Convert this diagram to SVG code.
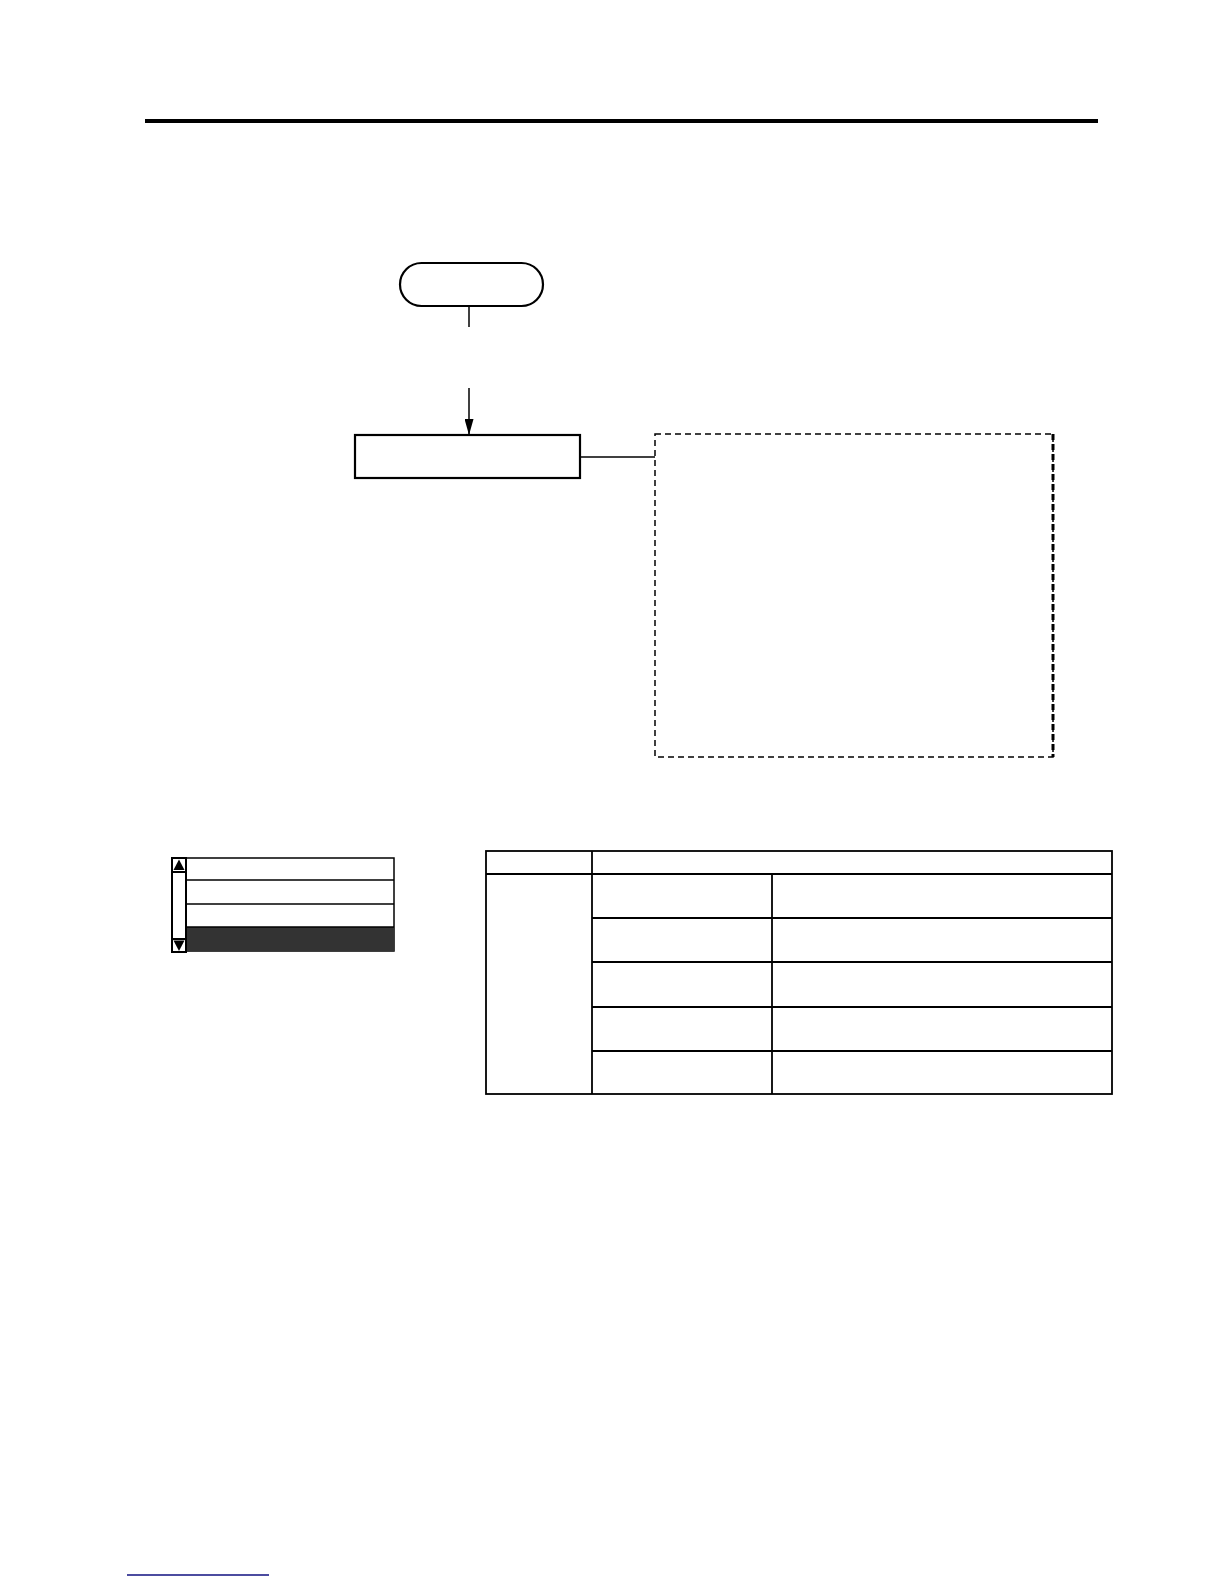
<svg xmlns="http://www.w3.org/2000/svg" width="1224" height="1584" viewBox="0 0 1224 1584">
<style>
.ln{stroke:#000;fill:none;stroke-width:1.5}
.box{stroke:#000;fill:#fff;stroke-width:2.2}
.dash{stroke:#000;fill:none;stroke-width:1.5;stroke-dasharray:6 4}
.tb{stroke:#000;fill:none;stroke-width:1.8}
</style>
<defs>
<marker id="arr" viewBox="0 0 16 9" refX="16" refY="4.5" markerWidth="16" markerHeight="9" markerUnits="userSpaceOnUse" orient="auto">
<path d="M0,0 L16,4.5 L0,9 z" fill="#000"/>
</marker>
</defs>
<rect x="145" y="119" width="953" height="4" fill="#000"/>
<g id="start">
<rect x="400" y="263" width="143" height="43" rx="21.5" ry="21.5" class="box" stroke-width="1.5"/>
</g>
<g id="process">
<rect x="355" y="435" width="225" height="43" class="box"/>
</g>
<g id="note">
<rect x="655" y="434" width="398" height="323" class="dash"/>
<line x1="1053" y1="434" x2="1053" y2="757" stroke="#000" stroke-width="3" stroke-dasharray="6 4"/>
</g>
<g id="connectors">
<line x1="469" y1="306" x2="469" y2="327" class="ln"/>
<line x1="469" y1="388" x2="469" y2="435" class="ln" marker-end="url(#arr)"/>
<line x1="580" y1="457" x2="655" y2="457" class="ln"/>
</g>
<g id="menu">
<rect x="186" y="858" width="208" height="93" fill="#fff" stroke="#000" stroke-width="1.5"/>
<rect x="186" y="927" width="208" height="24" fill="#333"/>
<line x1="186" y1="880" x2="394" y2="880" class="ln"/>
<line x1="186" y1="904" x2="394" y2="904" class="ln"/>
<line x1="186" y1="927" x2="394" y2="927" class="ln"/>
<rect x="172" y="858" width="14" height="94" fill="#fff" stroke="#000" stroke-width="2"/>
<line x1="172" y1="872" x2="186" y2="872" stroke="#000" stroke-width="2"/>
<line x1="172" y1="939" x2="186" y2="939" stroke="#000" stroke-width="2"/>
<polygon points="179,859.5 173.5,870 184.5,870" fill="#000"/>
<polygon points="173.5,940.5 184.5,940.5 179,951" fill="#000"/>
</g>
<g id="table">
<rect x="486" y="851" width="626" height="243" class="tb"/>
<line x1="486" y1="874" x2="1112" y2="874" class="tb"/>
<line x1="592" y1="851" x2="592" y2="1094" class="tb"/>
<line x1="772" y1="874" x2="772" y2="1094" class="tb"/>
<line x1="592" y1="918" x2="1112" y2="918" class="tb"/>
<line x1="592" y1="962" x2="1112" y2="962" class="tb"/>
<line x1="592" y1="1007" x2="1112" y2="1007" class="tb"/>
<line x1="592" y1="1051" x2="1112" y2="1051" class="tb"/>
</g>
<line x1="127" y1="1575" x2="269" y2="1575" stroke="#101080" stroke-width="1.6"/>
</svg>
